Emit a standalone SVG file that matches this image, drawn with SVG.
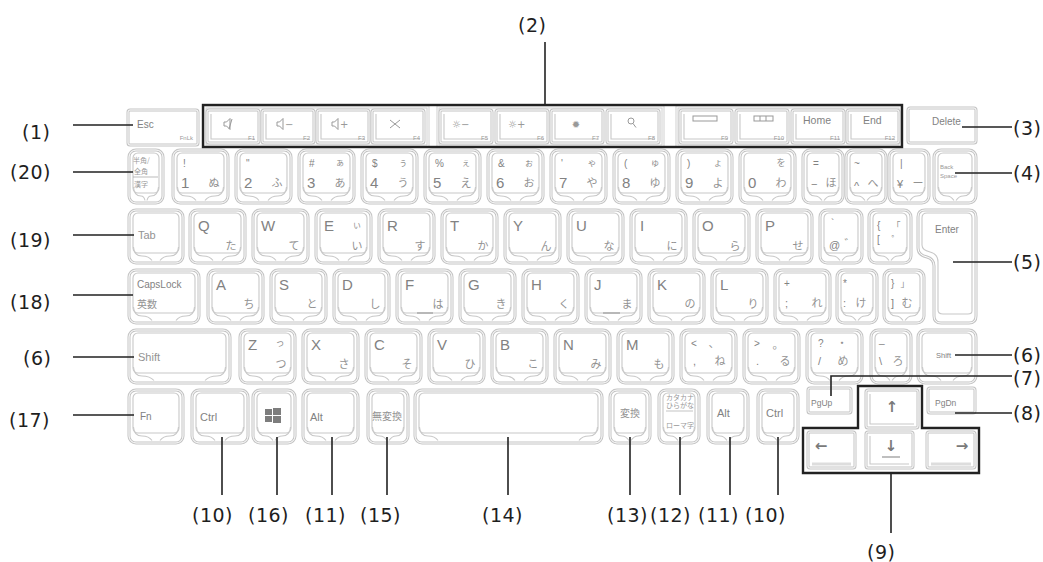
<svg xmlns="http://www.w3.org/2000/svg" xmlns:xlink="http://www.w3.org/1999/xlink" width="1043" height="562" viewBox="0 0 1043 562">
<style>
.ko{fill:#fff;stroke:#c4c4c4;stroke-width:3}
.kw{fill:none;stroke:#fff;stroke-width:1}
.ki{fill:none;stroke:#c8c8c8;stroke-width:1.1}
.fr{fill:none;stroke:#d0d0d0;stroke-width:3}
.frw{fill:none;stroke:#fff;stroke-width:1}
.a{font-family:"Liberation Sans",Arial,sans-serif;fill:#828282}
.L{font-size:15px}
.s{font-size:10px}
.m{font-size:11px}
.t{font-size:11px;fill:#939393}
.x{font-size:6px;fill:#999}
.xe{font-size:6px;fill:#999;text-anchor:end}
.j{font-family:"Noto Sans CJK JP",sans-serif;fill:#929292;font-size:11px;text-anchor:middle}
.jsm{font-size:9px}
.jt{font-family:"Noto Sans CJK JP",sans-serif;fill:#999;font-size:7px}
.jk{font-family:"Noto Sans CJK JP",sans-serif;fill:#939393;font-size:10px}
.ic{fill:none;stroke:#999;stroke-width:1}
.ict{font-family:"DejaVu Sans",sans-serif;fill:#999;font-size:10px}
.lab{font-family:"DejaVu Sans",Verdana,sans-serif;font-size:19px;fill:#1e1e1e;letter-spacing:0.5px}
.ld{fill:none;stroke:#222;stroke-width:1.6}
.bk{fill:none;stroke:#222;stroke-width:2.4}
.bump{fill:none;stroke:#aaa;stroke-width:1.5}
.arw{font-family:"DejaVu Sans",sans-serif;fill:#7a7a7a;font-size:15px;font-weight:bold;text-anchor:middle}
</style>
<defs>
<g id="k55"><rect class="ko" width="55" height="53" rx="7"/><rect class="kw" width="55" height="53" rx="7"/><rect class="ki" x="4" y="3" width="47" height="40" rx="5"/><path class="ki" d="M4.5,37 Q5,46 13,46 Q20,46 23,50.5 M50.5,37 Q50,46 42,46 Q35,46 32,50.5"/></g>
<g id="k54"><rect class="ko" width="54" height="53" rx="7"/><rect class="kw" width="54" height="53" rx="7"/><rect class="ki" x="4" y="3" width="46" height="40" rx="5"/><path class="ki" d="M4.5,37 Q5,46 13,46 Q20,46 23,50.5 M49.5,37 Q49,46 41,46 Q34,46 31,50.5"/></g>
<g id="k42"><rect class="ko" width="42" height="53" rx="7"/><rect class="kw" width="42" height="53" rx="7"/><rect class="ki" x="4" y="3" width="34" height="40" rx="5"/><path class="ki" d="M4.5,37 Q5,46 13,46 Q17,46 20,50.5 M37.5,37 Q37,46 29,46 Q25,46 22,50.5"/></g>
<g id="k40"><rect class="ko" width="40" height="53" rx="7"/><rect class="kw" width="40" height="53" rx="7"/><rect class="ki" x="4" y="3" width="32" height="40" rx="5"/><path class="ki" d="M4.5,37 Q5,46 12,46 Q16,46 19,50.5 M35.5,37 Q35,46 28,46 Q24,46 21,50.5"/></g>
<g id="f52"><rect class="ko" width="52" height="33" rx="2"/><rect class="kw" width="52" height="33" rx="2"/><path class="ki" d="M4,4 V29 H48"/></g>
<path id="spk" class="ic" d="M0,-2 H2.5 L6,-5.5 V5.5 L2.5,2 H0 Z"/>
</defs>

<!-- function row -->
<g id="frames">
<rect class="fr" x="205" y="107" width="223" height="39"/><rect class="frw" x="205" y="107" width="223" height="39"/>
<rect class="fr" x="438" y="107" width="225" height="39"/><rect class="frw" x="438" y="107" width="225" height="39"/>
<rect class="fr" x="677" y="107" width="223" height="39"/><rect class="frw" x="677" y="107" width="223" height="39"/>
</g>
<g id="key-esc"><rect class="ko" x="128" y="110" width="70" height="35" rx="2"/><rect class="kw" x="128" y="110" width="70" height="35" rx="2"/><text class="a s" x="137" y="128">Esc</text><text class="a xe" x="193" y="140">FnLk</text></g>
<g id="key-f1"><use href="#f52" x="207" y="110"/><use href="#spk" x="224" y="124"/><path class="ic" d="M232,119 l-3,10"/><text class="xe" font-family="Liberation Sans,sans-serif" x="255" y="140">F1</text></g>
<g id="key-f2"><use href="#f52" x="262" y="110"/><use href="#spk" x="277" y="124"/><text class="ict" x="285" y="128">−</text><text class="xe" font-family="Liberation Sans,sans-serif" x="310" y="140">F2</text></g>
<g id="key-f3"><use href="#f52" x="317" y="110"/><use href="#spk" x="332" y="124"/><text class="ict" x="340" y="128">+</text><text class="xe" font-family="Liberation Sans,sans-serif" x="365" y="140">F3</text></g>
<g id="key-f4"><use href="#f52" x="372" y="110"/><path class="ic" d="M390,120 l10,8 M400,120 l-10,8" stroke-width="1.4"/><text class="xe" font-family="Liberation Sans,sans-serif" x="420" y="140">F4</text></g>
<g id="key-f5"><use href="#f52" x="440" y="110"/><text class="ict" x="452" y="128">☼−</text><text class="xe" font-family="Liberation Sans,sans-serif" x="488" y="140">F5</text></g>
<g id="key-f6"><use href="#f52" x="496" y="110"/><text class="ict" x="508" y="128">☼+</text><text class="xe" font-family="Liberation Sans,sans-serif" x="544" y="140">F6</text></g>
<g id="key-f7"><use href="#f52" x="551" y="110"/><text class="ict" x="576" y="128" text-anchor="middle" fill="#888">✹</text><text class="xe" font-family="Liberation Sans,sans-serif" x="599" y="140">F7</text></g>
<g id="key-f8"><use href="#f52" x="607" y="110"/><circle class="ic" cx="631" cy="121" r="3"/><path class="ic" d="M633,123.5 l3,4"/><text class="xe" font-family="Liberation Sans,sans-serif" x="655" y="140">F8</text></g>
<g id="key-f9"><use href="#f52" x="680" y="110"/><rect class="ic" x="693" y="116" width="24" height="5"/><text class="xe" font-family="Liberation Sans,sans-serif" x="728" y="140">F9</text></g>
<g id="key-f10"><use href="#f52" x="736" y="110"/><rect class="ic" x="754" y="116" width="19" height="5"/><path class="ic" d="M760,116 v5 M766,116 v5"/><text class="xe" font-family="Liberation Sans,sans-serif" x="784" y="140">F10</text></g>
<g id="key-f11"><use href="#f52" x="792" y="110"/><text class="a" font-size="10.5" x="803" y="124">Home</text><text class="xe" font-family="Liberation Sans,sans-serif" x="840" y="140">F11</text></g>
<g id="key-f12"><use href="#f52" x="847" y="110"/><text class="a" font-size="10.5" x="863" y="124">End</text><text class="xe" font-family="Liberation Sans,sans-serif" x="895" y="140">F12</text></g>
<g id="key-delete"><rect class="ko" x="908" y="108" width="68" height="35" rx="2"/><rect class="kw" x="908" y="108" width="68" height="35" rx="2"/><text class="a s" x="932" y="125">Delete</text></g>

<!-- number row -->
<g id="key-hankaku"><rect class="ko" x="129" y="150" width="34" height="53" rx="7"/><rect class="kw" x="129" y="150" width="34" height="53" rx="7"/><rect class="ki" x="133" y="153" width="26" height="40" rx="5"/><path class="ki" d="M133.5,187 Q134,196 141,196 Q144,196 145,200.5 M158.5,187 Q158,196 151,196 Q148,196 147,200.5"/><text class="jt" x="133" y="163">半角/</text><text class="jt" x="134" y="174">全角</text><path d="M133,177 H158" stroke="#aaa" stroke-width="0.8"/><text class="jt" x="134" y="187">漢字</text></g>
<g id="key-1"><use href="#k55" x="173" y="150"/><text class="a s" x="183" y="167">!</text><text class="a L" x="181" y="188">1</text><text class="j" x="214" y="187">ぬ</text></g>
<g id="key-2"><use href="#k55" x="236" y="150"/><text class="a s" x="246" y="167">"</text><text class="a L" x="244" y="188">2</text><text class="j" x="277" y="187">ふ</text></g>
<g id="key-3"><use href="#k55" x="299" y="150"/><text class="a s" x="309" y="167">#</text><text class="j jsm" x="340" y="166">ぁ</text><text class="a L" x="307" y="188">3</text><text class="j" x="340" y="187">あ</text></g>
<g id="key-4"><use href="#k55" x="362" y="150"/><text class="a s" x="372" y="167">$</text><text class="j jsm" x="403" y="166">ぅ</text><text class="a L" x="370" y="188">4</text><text class="j" x="403" y="187">う</text></g>
<g id="key-5"><use href="#k55" x="425" y="150"/><text class="a s" x="435" y="167">%</text><text class="j jsm" x="466" y="166">ぇ</text><text class="a L" x="433" y="188">5</text><text class="j" x="466" y="187">え</text></g>
<g id="key-6"><use href="#k55" x="488" y="150"/><text class="a s" x="498" y="167">&amp;</text><text class="j jsm" x="529" y="166">ぉ</text><text class="a L" x="496" y="188">6</text><text class="j" x="529" y="187">お</text></g>
<g id="key-7"><use href="#k55" x="551" y="150"/><text class="a s" x="561" y="167">'</text><text class="j jsm" x="592" y="166">ゃ</text><text class="a L" x="559" y="188">7</text><text class="j" x="592" y="187">や</text></g>
<g id="key-8"><use href="#k55" x="614" y="150"/><text class="a s" x="624" y="167">(</text><text class="j jsm" x="655" y="166">ゅ</text><text class="a L" x="622" y="188">8</text><text class="j" x="655" y="187">ゆ</text></g>
<g id="key-9"><use href="#k55" x="677" y="150"/><text class="a s" x="687" y="167">)</text><text class="j jsm" x="718" y="166">ょ</text><text class="a L" x="685" y="188">9</text><text class="j" x="718" y="187">よ</text></g>
<g id="key-0"><use href="#k55" x="740" y="150"/><text class="j jsm" x="781" y="166">を</text><text class="a L" x="748" y="188">0</text><text class="j" x="781" y="187">わ</text></g>
<g id="key-minus"><use href="#k40" x="803" y="150"/><text class="a s" x="813" y="167">=</text><text class="a m" x="811" y="188">−</text><text class="j" x="831" y="187">ほ</text></g>
<g id="key-caret"><use href="#k40" x="846" y="150"/><text class="a s" x="854" y="167">~</text><text class="a m" x="854" y="190">^</text><text class="j" x="873" y="187">へ</text></g>
<g id="key-yen"><use href="#k40" x="889" y="150"/><text class="a s" x="900" y="167">|</text><text class="a m" x="897" y="188">¥</text><text class="j" x="918" y="187">ー</text></g>
<g id="key-bs"><use href="#k42" x="934" y="150"/><text class="a x" x="940" y="169">Back</text><text class="a x" x="940" y="178">Space</text></g>

<!-- qwerty row -->
<g id="key-tab"><use href="#k54" x="129" y="210"/><text class="a t" x="138" y="239">Tab</text></g>
<g id="key-q"><use href="#k55" x="190" y="210"/><text class="a L" x="198" y="231">Q</text><text class="j" x="231" y="250">た</text></g>
<g id="key-w"><use href="#k55" x="253" y="210"/><text class="a L" x="261" y="231">W</text><text class="j" x="294" y="250">て</text></g>
<g id="key-e"><use href="#k55" x="316" y="210"/><text class="a L" x="324" y="231">E</text><text class="j jsm" x="357" y="228">ぃ</text><text class="j" x="357" y="250">い</text></g>
<g id="key-r"><use href="#k55" x="379" y="210"/><text class="a L" x="387" y="231">R</text><text class="j" x="420" y="250">す</text></g>
<g id="key-t"><use href="#k55" x="442" y="210"/><text class="a L" x="450" y="231">T</text><text class="j" x="483" y="250">か</text></g>
<g id="key-y"><use href="#k55" x="505" y="210"/><text class="a L" x="513" y="231">Y</text><text class="j" x="546" y="250">ん</text></g>
<g id="key-u"><use href="#k55" x="568" y="210"/><text class="a L" x="576" y="231">U</text><text class="j" x="609" y="250">な</text></g>
<g id="key-i"><use href="#k55" x="631" y="210"/><text class="a L" x="640" y="231">I</text><text class="j" x="672" y="250">に</text></g>
<g id="key-o"><use href="#k55" x="694" y="210"/><text class="a L" x="702" y="231">O</text><text class="j" x="735" y="250">ら</text></g>
<g id="key-p"><use href="#k55" x="757" y="210"/><text class="a L" x="765" y="231">P</text><text class="j" x="798" y="250">せ</text></g>
<g id="key-at"><use href="#k42" x="820" y="210"/><text class="a s" x="831" y="227">`</text><text class="a m" x="829" y="249">@</text><text class="j" x="850" y="248">゛</text></g>
<g id="key-bracket"><use href="#k42" x="869" y="210"/><text class="a s" x="877" y="229">{</text><text class="j jsm" x="896" y="229">「</text><text class="a s" x="877" y="243">[</text><text class="j jsm" x="896" y="243">゜</text></g>
<g id="key-enter"><path class="ko" d="M918,217 Q918,210 925,210 H969 Q976,210 976,217 V316 Q976,323 969,323 H941 Q934,323 934,316 V266 Q934,259 927,257 Q918,255 918,248 Z"/><path class="kw" d="M918,217 Q918,210 925,210 H969 Q976,210 976,217 V316 Q976,323 969,323 H941 Q934,323 934,316 V266 Q934,259 927,257 Q918,255 918,248 Z"/><path class="ki" d="M922,218 Q922,213 927,213 H967 Q972,213 972,218 V311 Q972,314 968,314 H943 Q938,314 938,310 V262 Q938,254 930,252 Q922,250 922,245 Z"/><text class="a s" x="935" y="233">Enter</text></g>

<!-- home row -->
<g id="key-caps"><rect class="ko" x="129" y="270" width="70" height="53" rx="7"/><rect class="kw" x="129" y="270" width="70" height="53" rx="7"/><rect class="ki" x="133" y="273" width="62" height="40" rx="5"/><path class="ki" d="M133.5,307 Q134,316 142,316 Q149,316 152,320.5 M194.5,307 Q194,316 186,316 Q179,316 176,320.5"/><text class="a s" x="137" y="288">CapsLock</text><text class="jk" x="137" y="308">英数</text></g>
<g id="key-a"><use href="#k55" x="208" y="270"/><text class="a L" x="216" y="290">A</text><text class="j" x="249" y="308">ち</text></g>
<g id="key-s"><use href="#k55" x="271" y="270"/><text class="a L" x="279" y="290">S</text><text class="j" x="312" y="308">と</text></g>
<g id="key-d"><use href="#k55" x="334" y="270"/><text class="a L" x="342" y="290">D</text><text class="j" x="375" y="308">し</text></g>
<g id="key-f"><use href="#k55" x="397" y="270"/><text class="a L" x="405" y="290">F</text><text class="j" x="438" y="308">は</text><path class="bump" d="M417,313 H433"/></g>
<g id="key-g"><use href="#k55" x="460" y="270"/><text class="a L" x="468" y="290">G</text><text class="j" x="501" y="308">き</text></g>
<g id="key-h"><use href="#k55" x="523" y="270"/><text class="a L" x="531" y="290">H</text><text class="j" x="564" y="308">く</text></g>
<g id="key-j"><use href="#k55" x="586" y="270"/><text class="a L" x="594" y="290">J</text><text class="j" x="627" y="308">ま</text><path class="bump" d="M603,313 H620"/></g>
<g id="key-k"><use href="#k55" x="649" y="270"/><text class="a L" x="657" y="290">K</text><text class="j" x="690" y="308">の</text></g>
<g id="key-l"><use href="#k55" x="712" y="270"/><text class="a L" x="720" y="290">L</text><text class="j" x="753" y="308">り</text></g>
<g id="key-semicolon"><use href="#k55" x="775" y="270"/><text class="a s" x="784" y="287">+</text><text class="a m" x="785" y="307">;</text><text class="j" x="817" y="307">れ</text></g>
<g id="key-colon"><use href="#k40" x="837" y="270"/><text class="a s" x="843" y="287">*</text><text class="a m" x="843" y="307">:</text><text class="j" x="861" y="307">け</text></g>
<g id="key-rbracket"><use href="#k40" x="884" y="270"/><text class="a s" x="891" y="287">}</text><text class="j jsm" x="905" y="287">」</text><text class="a m" x="891" y="307">]</text><text class="j" x="907" y="307">む</text></g>

<!-- bottom letter row -->
<g id="key-shift-l"><rect class="ko" x="129" y="330" width="101" height="53" rx="7"/><rect class="kw" x="129" y="330" width="101" height="53" rx="7"/><rect class="ki" x="133" y="333" width="93" height="40" rx="5"/><path class="ki" d="M133.5,367 Q134,376 142,376 Q150,376 154,380.5 M225.5,367 Q225,376 217,376 Q209,376 205,380.5"/><text class="a t" x="138" y="361">Shift</text></g>
<g id="key-z"><use href="#k55" x="240" y="330"/><text class="a L" x="248" y="350">Z</text><text class="j jsm" x="280" y="346">っ</text><text class="j" x="281" y="368">つ</text></g>
<g id="key-x"><use href="#k55" x="303" y="330"/><text class="a L" x="311" y="350">X</text><text class="j" x="344" y="368">さ</text></g>
<g id="key-c"><use href="#k55" x="366" y="330"/><text class="a L" x="374" y="350">C</text><text class="j" x="407" y="368">そ</text></g>
<g id="key-v"><use href="#k55" x="429" y="330"/><text class="a L" x="437" y="350">V</text><text class="j" x="470" y="368">ひ</text></g>
<g id="key-b"><use href="#k55" x="492" y="330"/><text class="a L" x="500" y="350">B</text><text class="j" x="533" y="368">こ</text></g>
<g id="key-n"><use href="#k55" x="555" y="330"/><text class="a L" x="563" y="350">N</text><text class="j" x="596" y="368">み</text></g>
<g id="key-m"><use href="#k55" x="618" y="330"/><text class="a L" x="626" y="350">M</text><text class="j" x="659" y="368">も</text></g>
<g id="key-comma"><use href="#k55" x="681" y="330"/><text class="a s" x="691" y="347">&lt;</text><text class="j" x="714" y="347">、</text><text class="a m" x="693" y="365">,</text><text class="j" x="720" y="365">ね</text></g>
<g id="key-period"><use href="#k55" x="744" y="330"/><text class="a s" x="754" y="347">&gt;</text><text class="j" x="778" y="349">。</text><text class="a m" x="756" y="365">.</text><text class="j" x="785" y="365">る</text></g>
<g id="key-slash"><use href="#k55" x="807" y="330"/><text class="a s" x="818" y="347">?</text><text class="j" x="842" y="347">・</text><text class="a m" x="818" y="365">/</text><text class="j" x="843" y="365">め</text></g>
<g id="key-backslash"><use href="#k40" x="871" y="330"/><text class="a s" x="879" y="343">_</text><text class="a m" x="879" y="365">\</text><text class="j" x="898" y="365">ろ</text></g>
<g id="key-shift-r"><rect class="ko" x="918" y="330" width="58" height="53" rx="7"/><rect class="kw" x="918" y="330" width="58" height="53" rx="7"/><rect class="ki" x="922" y="333" width="50" height="40" rx="5"/><path class="ki" d="M922.5,367 Q923,376 931,376 Q938,376 941,380.5 M971.5,367 Q971,376 963,376 Q956,376 953,380.5"/><text class="a" font-size="7.5" fill="#999" x="936" y="358">Shift</text></g>

<!-- bottom row -->
<g id="key-fn"><use href="#k54" x="129" y="390"/><text class="a s" x="140" y="420">Fn</text></g>
<g id="key-ctrl-l"><rect class="ko" x="192" y="390" width="56" height="53" rx="7"/><rect class="kw" x="192" y="390" width="56" height="53" rx="7"/><rect class="ki" x="196" y="393" width="48" height="40" rx="5"/><path class="ki" d="M196.5,427 Q197,436 205,436 Q212,436 215,440.5 M243.5,427 Q243,436 235,436 Q228,436 225,440.5"/><text class="a m" x="200" y="421">Ctrl</text></g>
<g id="key-win"><use href="#k42" x="253" y="390"/><path fill="#7d7d7d" d="M265,409 h7 v6 h-7z M273,408 h8 v7 h-8z M265,416 h7 v6 h-7z M273,416 h8 v7 h-8z"/></g>
<g id="key-alt-l"><use href="#k55" x="303" y="390"/><text class="a m" x="310" y="421">Alt</text></g>
<g id="key-muhenkan"><use href="#k40" x="368" y="390"/><text class="jk" x="372" y="420">無変換</text></g>
<g id="key-space"><rect class="ko" x="415" y="390" width="187" height="53" rx="7"/><rect class="kw" x="415" y="390" width="187" height="53" rx="7"/><rect class="ki" x="419" y="393" width="179" height="40" rx="5"/><path class="ki" d="M419.5,427 Q420,436 428,436 Q435,436 438,440.5 M597.5,427 Q597,436 589,436 Q582,436 579,440.5"/></g>
<g id="key-henkan"><use href="#k40" x="610" y="390"/><text class="jk" x="620" y="417">変換</text></g>
<g id="key-kana"><use href="#k40" x="659" y="390"/><text class="jt" x="666" y="400">カタカナ</text><text class="jt" x="666" y="408">ひらがな</text><path d="M666,411 H693" stroke="#aaa" stroke-width="0.7"/><text class="jt" x="666" y="428">ローマ字</text></g>
<g id="key-alt-r"><use href="#k40" x="708" y="390"/><text class="a m" x="717" y="417">Alt</text></g>
<g id="key-ctrl-r"><use href="#k40" x="758" y="390"/><text class="a m" x="766" y="417">Ctrl</text></g>
<g id="key-pgup"><rect class="ko" x="808" y="388" width="43" height="25" rx="2"/><rect class="kw" x="808" y="388" width="43" height="25" rx="2"/><text class="a" font-size="8.5" x="811" y="406">PgUp</text></g>
<g id="key-up"><rect class="ko" x="866" y="390" width="52" height="38" rx="2"/><rect class="kw" x="866" y="390" width="52" height="38" rx="2"/><path class="ki" d="M870,394 V424 H914"/><text class="arw" x="892" y="412">↑</text></g>
<g id="key-pgdn"><rect class="ko" x="928" y="388" width="47" height="25" rx="2"/><rect class="kw" x="928" y="388" width="47" height="25" rx="2"/><text class="a" font-size="8.5" x="935" y="406">PgDn</text></g>
<g id="key-left"><rect class="ko" x="808" y="432" width="47" height="36" rx="2"/><rect class="kw" x="808" y="432" width="47" height="36" rx="2"/><path d="M812,464 H851" stroke="#ddd" stroke-width="3"/><text class="arw" x="821" y="451">←</text></g>
<g id="key-down"><rect class="ko" x="866" y="432" width="47" height="36" rx="2"/><rect class="kw" x="866" y="432" width="47" height="36" rx="2"/><path class="ki" d="M870,436 V464 H909"/><text class="arw" x="891" y="451">↓</text><path class="bump" d="M882,457 H900"/></g>
<g id="key-right"><rect class="ko" x="927" y="432" width="48" height="36" rx="2"/><rect class="kw" x="927" y="432" width="48" height="36" rx="2"/><path d="M931,464 H971" stroke="#ddd" stroke-width="3"/><text class="arw" x="962" y="451">→</text></g>

<!-- connectors -->
<g id="connectors">
<rect class="bk" x="203" y="105" width="699" height="42"/>
<path class="bk" d="M858,386 H922 V428 H979 V473 H803 V428 H858 Z"/>
<path class="ld" d="M545,42 V105"/>
<path class="ld" d="M73,125 H133 M73,172 H133 M73,235 H134 M73,295 H133 M73,357 H134 M73,415 H134"/>
<path class="ld" d="M962,127 H1012 M955,173 H1012 M953,262 H1012 M955,355 H1012 M1012,376 H831 V396 M955,413 H1012"/>
<path class="ld" d="M222,437 V495 M277,437 V495 M332,437 V495 M387,437 V495 M508,437 V495 M630,437 V495 M680,437 V495 M730,437 V495 M778,437 V495"/>
<path class="ld" d="M891,473 V533"/>
</g>

<!-- labels -->
<g id="labels">
<text class="lab" x="518" y="31.5">(2)</text>
<text class="lab" x="22" y="138.5">(1)</text>
<text class="lab" x="10" y="178.5">(20)</text>
<text class="lab" x="10" y="246.5">(19)</text>
<text class="lab" x="10" y="308.5">(18)</text>
<text class="lab" x="23" y="364.5">(6)</text>
<text class="lab" x="9" y="426.5">(17)</text>
<text class="lab" x="1013" y="134.5">(3)</text>
<text class="lab" x="1013" y="179.5">(4)</text>
<text class="lab" x="1013" y="268.5">(5)</text>
<text class="lab" x="1013" y="361.5">(6)</text>
<text class="lab" x="1013" y="384.5">(7)</text>
<text class="lab" x="1013" y="419.5">(8)</text>
<text class="lab" x="192" y="521.5">(10)</text>
<text class="lab" x="248" y="521.5">(16)</text>
<text class="lab" x="305" y="521.5">(11)</text>
<text class="lab" x="360" y="521.5">(15)</text>
<text class="lab" x="482" y="521.5">(14)</text>
<text class="lab" x="607" y="521.5">(13)</text>
<text class="lab" x="650" y="521.5">(12)</text>
<text class="lab" x="698" y="521.5">(11)</text>
<text class="lab" x="745" y="521.5">(10)</text>
<text class="lab" x="867" y="558.5">(9)</text>
</g>
</svg>
